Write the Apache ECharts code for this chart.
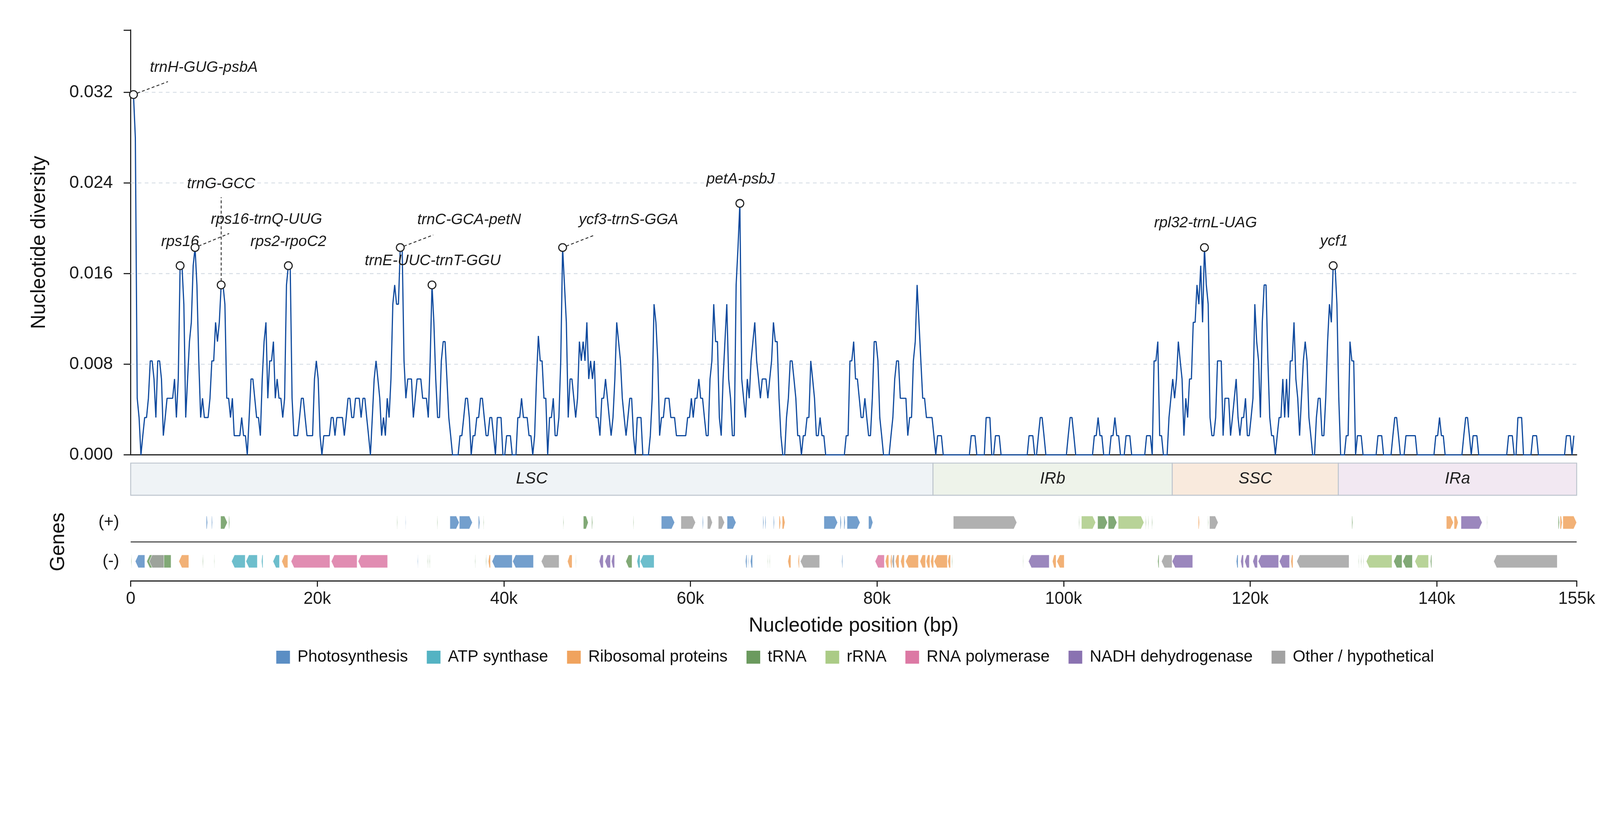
<!DOCTYPE html>
<html>
<head>
<meta charset="utf-8">
<script src="https://cdn.jsdelivr.net/npm/echarts@6/dist/echarts.min.js"></script>
<style>
html,body{margin:0;padding:0;background:#ffffff;overflow:hidden;}
#chart{width:100vw;height:100vh;}
</style>
</head>
<body>
<div id="chart"></div>
<script>
// ---------------- DATA ----------------
// Sliding-window nucleotide diversity (window midpoints every 200 bp starting at 300 bp)
const WINDOW_START = 300;
const WINDOW_STEP = 200;
const diversity = [
0.0318,0.028,0.005,0.0033,0,0.0017,0.0033,0.0033,0.005,0.0083,0.0083,0.0067,0.0033,0.0083,0.0083,0.0067,0.0017,0.0033,0.005,0.005,
0.005,0.005,0.0067,0.0033,0.0067,0.0167,0.0167,0.0133,0.0033,0.0067,0.01,0.0117,0.0167,0.0183,0.015,0.0083,0.0033,0.005,0.0033,0.0033,
0.0033,0.005,0.0083,0.0083,0.0117,0.01,0.0117,0.015,0.015,0.0133,0.005,0.005,0.0033,0.005,0.0017,0.0017,0.0017,0.0017,0.0033,0.0017,
0.0017,0,0.0033,0.0067,0.0067,0.005,0.0033,0.0033,0.0017,0.0067,0.01,0.0117,0.005,0.0083,0.0083,0.01,0.005,0.0067,0.005,0.005,
0.0033,0.005,0.015,0.0167,0.0167,0.005,0.0017,0.0017,0.0017,0.0033,0.005,0.005,0.0033,0.0017,0.0017,0.0017,0.0017,0.0067,0.0083,0.0067,
0.0017,0,0.0017,0.0017,0.0017,0.0017,0.0033,0.0033,0.0017,0.0033,0.0033,0.0033,0.0033,0.0017,0.0033,0.005,0.005,0.0033,0.0033,0.005,
0.005,0.005,0.0033,0.005,0.005,0.0033,0.0017,0,0.0033,0.0067,0.0083,0.0067,0.005,0.0017,0.0033,0.0017,0.005,0.0033,0.0067,0.0133,
0.015,0.0133,0.0133,0.0183,0.0183,0.0083,0.005,0.0067,0.0067,0.0067,0.0033,0.005,0.0067,0.0067,0.0067,0.005,0.005,0.005,0.0033,0.0083,
0.015,0.0117,0.0067,0.0033,0.0033,0.0083,0.01,0.01,0.0067,0.0033,0.0017,0,0,0,0,0.0017,0.0017,0.0033,0.005,0.005,
0.0033,0,0.0017,0.0017,0.0033,0.0033,0.005,0.005,0.0033,0.0017,0.0017,0.0033,0.0033,0.0017,0,0.0033,0.0033,0.0033,0,0,
0.0017,0.0017,0.0017,0,0,0,0.0033,0.0033,0.005,0.0033,0.0033,0.0033,0.0017,0.0017,0,0.0017,0.0067,0.0105,0.0083,0.0083,
0.005,0.005,0,0.0033,0.0033,0.005,0.0017,0.0017,0.0033,0.0083,0.0183,0.015,0.0117,0.0033,0.0067,0.0067,0.005,0.0033,0.005,0.01,
0.0083,0.01,0.0083,0.0117,0.0067,0.0083,0.0067,0.0083,0.0033,0.0033,0.0017,0.005,0.005,0.0067,0.005,0.0033,0.0017,0.0033,0.0067,0.0117,
0.01,0.0083,0.005,0.0033,0.0017,0.0033,0.005,0.005,0.0017,0,0.0033,0.0033,0.0033,0,0,0,0,0.0017,0.005,0.0133,
0.0117,0.0083,0.0017,0.0033,0.0033,0.005,0.005,0.005,0.0033,0.0033,0.0033,0.0017,0.0017,0.0017,0.0017,0.0017,0.0017,0.0033,0.0033,0.005,
0.0033,0.005,0.005,0.0067,0.005,0.005,0.0033,0.0017,0.0017,0.0067,0.0083,0.0133,0.01,0.01,0.0033,0.0017,0.0067,0.01,0.0133,0.0067,
0.005,0.0017,0.0017,0.015,0.0183,0.0222,0.0067,0.005,0.0033,0.0067,0.005,0.0083,0.01,0.0117,0.0083,0.0067,0.005,0.0067,0.0067,0.0067,
0.005,0.0067,0.0083,0.0117,0.01,0.01,0.005,0.0017,0,0,0.0033,0.005,0.0083,0.0083,0.0067,0.005,0.0017,0.0017,0,0.0017,
0.0017,0.0033,0.0033,0.0083,0.0067,0.005,0.0017,0.0017,0.0033,0.0017,0.0017,0,0,0,0,0,0,0,0,0,
0,0,0.0017,0.0017,0.0083,0.0083,0.01,0.0067,0.0067,0.005,0.0033,0.0033,0.005,0.0033,0.0017,0.0017,0.005,0.01,0.01,0.0083,
0.0033,0.0017,0,0,0,0,0.0017,0.0033,0.0067,0.0083,0.0083,0.005,0.005,0.005,0.005,0.0017,0.0033,0.0033,0.0083,0.01,
0.015,0.0117,0.0083,0.005,0.005,0.0033,0.0033,0.0033,0.0033,0.0017,0,0.0017,0.0017,0.0017,0,0,0,0,0,0,
0,0,0,0,0,0,0,0,0,0.0017,0.0017,0.0017,0,0,0,0,0,0.0033,0.0033,0.0033,
0,0,0.0017,0.0017,0.0017,0,0,0,0,0,0,0,0,0,0,0,0,0,0,0,
0.0017,0.0017,0.0017,0,0,0.0017,0.0033,0.0033,0.0017,0,0,0,0,0,0,0,0,0,0,0,
0,0.0017,0.0033,0.0033,0.0017,0,0,0,0,0,0,0,0,0,0,0.0017,0.0017,0.0033,0.0017,0.0017,
0,0,0,0,0.0017,0.0017,0.0033,0.0017,0.0017,0,0,0,0.0017,0.0017,0.0017,0,0,0,0,0,
0,0,0,0.0017,0.0017,0.0017,0,0.0083,0.0083,0.01,0.0017,0.0017,0,0,0,0.0033,0.005,0.0067,0.005,0.0067,
0.01,0.0083,0.0067,0.0017,0.005,0.0033,0.0067,0.0067,0.0117,0.0117,0.015,0.0133,0.0167,0.0117,0.0183,0.015,0.0133,0.0033,0.0017,0.0017,
0.0033,0.0083,0.0083,0.0083,0.0017,0.005,0.005,0.005,0.0017,0.0033,0.005,0.0067,0.0033,0.0017,0.0033,0.0033,0.005,0.0017,0.0017,0.0033,
0.005,0.0133,0.01,0.0083,0.0033,0.0117,0.015,0.015,0.0083,0.0033,0.0017,0.0017,0,0.0017,0.0033,0.0033,0.0067,0.0033,0.0067,0.0033,
0.0083,0.0083,0.0117,0.0067,0.005,0.0017,0.005,0.0083,0.01,0.0083,0.0033,0.0017,0,0,0.0033,0.005,0.005,0.0017,0.0017,0.005,
0.01,0.0133,0.0117,0.0167,0.0167,0.0133,0.005,0,0,0,0.0017,0.0017,0.01,0.0083,0.0083,0,0.0017,0.0017,0.0017,0,
0,0,0,0,0,0,0,0.0017,0.0017,0.0017,0,0,0,0,0,0.0017,0.0033,0.0033,0.0017,0,
0,0,0.0017,0.0017,0.0017,0.0017,0.0017,0.0017,0,0,0,0,0,0,0,0,0,0,0.0017,0.0017,
0.0033,0.0017,0.0017,0,0,0,0,0,0,0,0,0,0,0.0017,0.0033,0.0033,0.0017,0,0.0017,0.0017,
0.0017,0,0,0,0,0,0,0,0,0,0,0,0,0,0,0,0,0.0017,0.0017,0.0017,
0,0,0.0033,0.0033,0.0033,0,0,0,0,0,0.0017,0.0017,0.0017,0,0,0,0,0,0,0,
0,0,0,0,0,0,0,0,0.0017,0.0017,0.0017,0,0.0017
];

const yTicks = [0, 0.008, 0.016, 0.024, 0.032];
const Y_MAX = 0.0375;
const GENOME_LENGTH = 155000;
const X_TICK_STEP = 20000;

// Highlighted hotspots: name + window midpoint (bp)
const hotspotNames = ['trnH-GUG-psbA','rps16','rps16-trnQ-UUG','trnG-GCC','rps2-rpoC2','trnC-GCA-petN',
  'trnE-UUC-trnT-GGU','ycf3-trnS-GGA','petA-psbJ','rpl32-trnL-UAG','ycf1'];
const hotspotPositions = [300, 5300, 6900, 9700, 16900, 28900, 32300, 46300, 65300, 115100, 128900];

// Genome regions
const regionNames = ['LSC','IRb','SSC','IRa'];
const regionStarts = [0, 86000, 111650, 129450];
const regionEnds = [86000, 111650, 129450, 155000];

// Gene categories and strands
const geneCategories = ['Photosynthesis','ATP synthase','Ribosomal proteins','tRNA','rRNA','RNA polymerase','NADH dehydrogenase','Other / hypothetical'];
const strandLabels = ['(-)','(+)'];

// Genes on the (+) strand: [start, end, categoryIndex]
const genesPlus = [
[8100,8240,0],[8670,8770,0],[9640,10370,3],[10510,10610,3],[28540,28610,3],[29450,29510,0],[32850,32920,3],
[34220,35220,0],[35230,36630,0],[37270,37430,0],[37800,37870,3],[46350,46420,3],[48520,49050,3],[49420,49520,3],
[53870,53940,3],[56880,58310,0],[58980,60550,7],[61290,61390,0],[61820,62360,7],[62990,63660,7],[63930,64890,0],
[67770,67870,0],[68000,68100,0],[68900,69000,0],[69500,69670,2],[69840,70140,2],[74310,75780,0],[76050,76180,0],
[76450,76590,0],[76790,78190,0],[79090,79560,0],[88180,94990,7],[101640,101710,3],[101910,103440,4],[103650,104710,3],
[104780,105720,3],[105850,108620,4],[108790,108860,3],[109060,109130,3],[109460,109530,3],[114440,114570,2],
[115470,115540,3],[115640,116570,7],[130900,131000,3],[141030,141790,2],[141860,142300,2],[142600,144870,6],
[145370,145430,3],[153020,153150,3],[153220,153450,2],[153520,155000,2]
];
// Genes on the (-) strand: [start, end, categoryIndex]
const genesMinus = [
[50,120,3],[490,1520,0],[1720,4330,3],[1990,3560,7],[5160,6230,2],[7700,7770,3],[8940,9000,3],
[10810,12280,1],[12350,13580,1],[14020,14180,1],[15250,15950,1],[16190,16850,2],[17190,21360,5],[21500,24270,5],
[24370,27540,5],[30750,30820,0],[31790,31850,3],[31950,32010,3],[32060,32120,3],[36900,36960,3],[38060,38130,3],
[38330,38570,2],[38730,40900,0],[40940,43180,0],[44010,45920,7],[46820,47320,2],[47690,47750,3],[50220,50660,6],
[50830,51430,6],[51530,51870,6],[53070,53740,3],[54270,54600,1],[54610,56110,1],[65900,66060,0],[66160,66230,0],
[66430,66660,0],[68270,68330,3],[68470,68530,3],[70440,70770,2],[71540,71680,2],[71780,73850,7],[76220,76320,0],
[79790,80790,5],[80890,81260,2],[81430,81600,2],[81600,81860,7],[81960,82360,2],[82530,82930,2],[83060,84440,2],
[84600,85200,2],[85270,85670,2],[85740,86070,2],[86110,87540,2],[87580,87880,2],[88010,88080,3],[95630,95690,3],
[96230,98460,6],[98800,99200,2],[99270,100070,2],[110090,110230,3],[110490,111630,7],[111630,113840,6],
[118510,118710,0],[118980,119280,6],[119410,119910,6],[120280,120780,6],[120850,123050,6],[123120,124220,6],
[124360,124590,2],[124990,130600,7],[131610,131670,3],[131870,131940,3],[132110,132170,3],[132440,135210,4],
[135380,136280,3],[136350,137390,3],[137650,139120,4],[139320,139460,3],[146100,152920,7]
];

// ---------------- STYLE ----------------
// All sizes below are given for a 4322 px wide picture and scaled to the actual viewport.
const S = (document.documentElement.clientWidth || window.innerWidth || 4322) / 4322;
const px = v => v * S;
const FONT = '"Liberation Sans", Arial, sans-serif';
const categoryColors = ['#5b8ec4','#54b3c3','#f0a35e','#6b9a5e','#abcb86','#dc79a4','#8a72b1','#a2a2a2'];
const regionColors = ['#eff3f6','#eef3ea','#f9eadd','#f2e8f2'];
const lineColor = '#0f4a9e';
const gridLineColor = '#d6dde5';
const CIRCLE_R = 10.5;
// label offsets relative to the highlighted point; leader = end of dashed connector
const labelLayout = {
  'trnH-GUG-psbA': {text:[190,-73], leader:[93,-35]},
  'rps16': {text:[0,-64]},
  'rps16-trnQ-UUG': {text:[193,-76], leader:[92,-38]},
  'trnG-GCC': {text:[0,-273], leader:[0,-237]},
  'rps2-rpoC2': {text:[0,-64]},
  'trnC-GCA-petN': {text:[186,-74], leader:[89,-34]},
  'trnE-UUC-trnT-GGU': {text:[2,-65]},
  'ycf3-trnS-GGA': {text:[178,-74], leader:[87,-34]},
  'petA-psbJ': {text:[2,-65]},
  'rpl32-trnL-UAG': {text:[3,-66]},
  'ycf1': {text:[2,-65]}
};

// ---------------- BUILD ----------------
const linePoints = diversity.map((v, i) => [WINDOW_START + i * WINDOW_STEP, v]);
const hotspotData = hotspotPositions.map(p => [p, diversity[(p - WINDOW_START) / WINDOW_STEP]]);

function fmtK(v) { return v === 0 ? '0' : (v / 1000) + 'k'; }

function gridLineRender(params, api) {
  const a = api.coord([api.value(0), api.value(2)]);
  const b = api.coord([api.value(1), api.value(2)]);
  return {type:'line', shape:{x1:a[0], y1:a[1], x2:b[0], y2:b[1]},
    style:{stroke:gridLineColor, lineWidth:px(2.5), lineDash:[px(10), px(9)]}};
}

function hotspotRender(params, api) {
  const name = hotspotNames[params.dataIndex];
  const c = api.coord([api.value(0), api.value(1)]);
  const L = labelLayout[name];
  const r = px(CIRCLE_R);
  const children = [];
  if (L.leader) {
    const dx = px(L.leader[0]), dy = px(L.leader[1]);
    const len = Math.hypot(dx, dy);
    children.push({type:'line', shape:{x1:c[0] + dx/len*r, y1:c[1] + dy/len*r, x2:c[0] + dx, y2:c[1] + dy},
      style:{stroke:'#333333', lineWidth:px(2.5), lineDash:[px(8), px(6)]}});
  }
  children.push({type:'circle', shape:{cx:c[0], cy:c[1], r:r}, style:{fill:'#ffffff', stroke:'#222222', lineWidth:px(3)}});
  children.push({type:'text', x:c[0] + px(L.text[0]), y:c[1] + px(L.text[1]),
    style:{text:name, font:'italic ' + px(41) + 'px ' + FONT, fill:'#1a1a1a', align:'center', verticalAlign:'middle'}});
  return {type:'group', children};
}

function regionRender(params, api) {
  const i = params.dataIndex;
  const x1 = api.coord([api.value(0), 0.5])[0];
  const x2 = api.coord([api.value(1), 0.5])[0];
  const cs = params.coordSys;
  return {type:'group', children:[
    {type:'rect', shape:{x:x1, y:cs.y, width:x2 - x1, height:cs.height},
      style:{fill:regionColors[i], stroke:'#bcc4cd', lineWidth:px(2.5)}},
    {type:'text', x:(x1 + x2) / 2, y:cs.y + cs.height / 2,
      style:{text:regionNames[i], font:'italic ' + px(44) + 'px ' + FONT, fill:'#1f1f1f', align:'center', verticalAlign:'middle'}}
  ]};
}

function geneRender(params, api) {
  const s = api.value(0), e = api.value(1), strand = api.value(2);
  const p1 = api.coord([s, strand]);
  const p2 = api.coord([e, strand]);
  const band = api.size([0, 1])[1];
  const h = band / 3;
  let x1 = p1[0], x2 = p2[0];
  const minW = px(1.2);
  if (x2 - x1 < minW) { const m = (x1 + x2) / 2; x1 = m - minW/2; x2 = m + minW/2; }
  const yc = p1[1];
  const head = Math.min(px(8), (x2 - x1) * 0.45);
  let pts;
  if (strand === 1) {
    pts = [[x1, yc - h/2], [x2 - head, yc - h/2], [x2, yc], [x2 - head, yc + h/2], [x1, yc + h/2]];
  } else {
    pts = [[x2, yc - h/2], [x1 + head, yc - h/2], [x1, yc], [x1 + head, yc + h/2], [x2, yc + h/2]];
  }
  return {type:'polygon', shape:{points:pts},
    style:{fill:api.visual('color'), opacity:0.85, stroke:'#ffffff', lineWidth:px(1.2)}};
}

function separatorRender(params, api) {
  const band = api.size([0, 1])[1];
  const a = api.coord([api.value(0), 0]);
  const b = api.coord([api.value(1), 0]);
  const y = a[1] - band / 2;
  return {type:'line', shape:{x1:a[0], y1:y, x2:b[0], y2:y}, style:{stroke:'#333333', lineWidth:px(2.5)}};
}

const geneSeries = geneCategories.map((cat, ci) => {
  const data = [];
  genesPlus.forEach(g => { if (g[2] === ci) data.push([g[0], g[1], 1]); });
  genesMinus.forEach(g => { if (g[2] === ci) data.push([g[0], g[1], 0]); });
  return {
    type:'custom', name:cat, xAxisIndex:2, yAxisIndex:2, renderItem:geneRender,
    itemStyle:{color:categoryColors[ci]}, encode:{x:[0,1], y:2}, data, z:3, silent:true
  };
});

const axisColor = '#222222';
const option = {
  animation:false,
  backgroundColor:'#ffffff',
  textStyle:{fontFamily:FONT},
  grid:[
    {left:px(353), top:px(81), width:px(3906), height:px(1148)},
    {left:px(353), top:px(1251), width:px(3906), height:px(87)},
    {left:px(353), top:px(1359), width:px(3906), height:px(210)}
  ],
  xAxis:[
    {type:'value', gridIndex:0, min:0, max:GENOME_LENGTH, interval:X_TICK_STEP,
      axisLine:{show:true, lineStyle:{color:axisColor, width:px(3)}}, axisTick:{show:false}, axisLabel:{show:false}, splitLine:{show:false}},
    {type:'value', gridIndex:1, min:0, max:GENOME_LENGTH, show:false},
    {type:'value', gridIndex:2, min:0, max:GENOME_LENGTH, interval:X_TICK_STEP,
      axisLine:{show:true, onZero:false, lineStyle:{color:axisColor, width:px(3)}},
      axisTick:{show:true, length:px(16), lineStyle:{color:axisColor, width:px(3)}},
      axisLabel:{fontSize:px(46), color:'#1a1a1a', margin:px(26), formatter:fmtK},
      splitLine:{show:false},
      name:'Nucleotide position (bp)', nameLocation:'middle', nameGap:px(95),
      nameTextStyle:{fontSize:px(54), color:'#111111'}}
  ],
  yAxis:[
    {type:'value', gridIndex:0, min:0, max:Y_MAX, interval:0.008,
      axisLine:{show:true, lineStyle:{color:axisColor, width:px(3)}},
      axisTick:{show:true, length:px(19), lineStyle:{color:axisColor, width:px(3)}},
      axisLabel:{fontSize:px(47), color:'#1a1a1a', margin:px(48),
        formatter:v => yTicks.some(t => Math.abs(t - v) < 1e-9) ? v.toFixed(3) : ''},
      splitLine:{show:false},
      name:'Nucleotide diversity', nameLocation:'middle', nameGap:px(220),
      nameTextStyle:{fontSize:px(54), color:'#111111'}},
    {type:'value', gridIndex:1, min:0, max:1, show:false},
    {type:'category', gridIndex:2, data:strandLabels,
      axisLine:{show:false}, axisTick:{show:false},
      axisLabel:{fontSize:px(45), color:'#1a1a1a', margin:px(31)},
      splitLine:{show:false},
      name:'Genes', nameLocation:'middle', nameGap:px(168),
      nameTextStyle:{fontSize:px(54), color:'#111111'}}
  ],
  legend:{
    data:geneCategories, top:px(1748), left:px(741), icon:'rect',
    itemWidth:px(37), itemHeight:px(35), itemGap:px(51),
    textStyle:{fontSize:px(44), color:'#111111', padding:[0,0,0,px(15)]}
  },
  series:[
    {type:'custom', name:'gridlines', xAxisIndex:0, yAxisIndex:0, renderItem:gridLineRender,
      data:yTicks.filter(t => t > 0).map(t => [0, GENOME_LENGTH, t]), encode:{x:[0,1], y:2}, z:1, silent:true},
    {type:'line', name:'diversity', xAxisIndex:0, yAxisIndex:0, data:linePoints, showSymbol:false, symbol:'none',
      lineStyle:{color:lineColor, width:px(3.2)}, z:3, silent:true},
    {type:'custom', name:'hotspots', xAxisIndex:0, yAxisIndex:0, renderItem:hotspotRender,
      data:hotspotData, encode:{x:0, y:1}, z:10, silent:true},
    {type:'custom', name:'regions', xAxisIndex:1, yAxisIndex:1, renderItem:regionRender,
      data:regionNames.map((n, i) => [regionStarts[i], regionEnds[i], 0.5]), encode:{x:[0,1], y:2}, silent:true},
    {type:'custom', name:'separator', xAxisIndex:2, yAxisIndex:2, renderItem:separatorRender,
      data:[[0, GENOME_LENGTH, 0]], encode:{x:[0,1], y:2}, silent:true}
  ].concat(geneSeries)
};

const chart = echarts.init(document.getElementById('chart'), null, {renderer:'canvas'});
chart.setOption(option);
window.addEventListener('resize', () => chart.resize());
</script>
</body>
</html>
